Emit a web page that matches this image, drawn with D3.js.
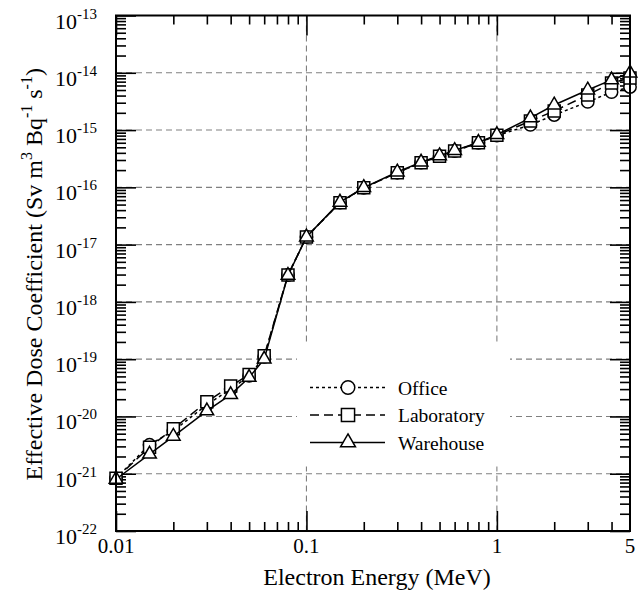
<!DOCTYPE html>
<html>
<head>
<meta charset="utf-8">
<script src="https://cdn.jsdelivr.net/npm/d3@7"></script>
<style>
  html, body { margin: 0; padding: 0; background: #fff; }
</style>
</head>
<body>
<div id="chart"></div>
<script>
// Effective dose coefficient vs electron energy (log-log), three room types

const ENERGY = [0.01, 0.015, 0.02, 0.03, 0.04, 0.05, 0.06, 0.08, 0.1, 0.15, 0.2,
                0.3, 0.4, 0.5, 0.6, 0.8, 1, 1.5, 2, 3, 4, 5];
const OFFICE = [8.3e-22, 3.2e-21, 5.6e-21, 1.6e-20, 3.0e-20, 5.1e-20, 1.1e-19, 2.95e-18,
                1.36e-17, 5.4e-17, 9.8e-17, 1.8e-16, 2.7e-16, 3.5e-16, 4.3e-16, 6.0e-16,
                8.0e-16, 1.23e-15, 1.83e-15, 3.1e-15, 4.6e-15, 5.65e-15];
const LABORATORY = [8.3e-22, 2.9e-21, 6.1e-21, 1.8e-20, 3.4e-20, 5.4e-20, 1.15e-19, 2.95e-18,
                1.36e-17, 5.4e-17, 9.8e-17, 1.8e-16, 2.7e-16, 3.5e-16, 4.3e-16, 6.0e-16,
                8.1e-16, 1.44e-15, 2.15e-15, 4.1e-15, 6.6e-15, 8.1e-15];
const WAREHOUSE = [8.0e-22, 2.2e-21, 4.5e-21, 1.25e-20, 2.4e-20, 4.8e-20, 1.0e-19, 2.9e-18,
                1.36e-17, 5.5e-17, 9.9e-17, 1.85e-16, 2.75e-16, 3.55e-16, 4.4e-16, 6.1e-16,
                8.3e-16, 1.63e-15, 2.74e-15, 5.0e-15, 7.5e-15, 9.9e-15];

const SERIES = [
  { name: "Office",     values: OFFICE,     dash: "3,3", symbol: d3.symbolCircle,   size: 120 },
  { name: "Laboratory", values: LABORATORY, dash: "9,5", symbol: d3.symbolSquare,   size: 144 },
  { name: "Warehouse",  values: WAREHOUSE,  dash: null,  symbol: d3.symbolTriangle, size: 80 },
];
const X_LABELS = [0.01, 0.1, 1, 5];
const Y_EXPONENTS = [-13, -14, -15, -16, -17, -18, -19, -20, -21, -22];

const FONT = "Liberation Serif";

/* ── Layout ── */
const totalW = 640, totalH = 592;
const margin = { top: 15.5, right: 10, bottom: 61, left: 116 };
const W = totalW - margin.left - margin.right;   // 514
const H = totalH - margin.top - margin.bottom;   // 515.5

const svg = d3.select("#chart").append("svg")
  .attr("width", totalW).attr("height", totalH)
  .attr("font-family", FONT);
const g = svg.append("g").attr("transform", `translate(${margin.left},${margin.top})`);

/* ── Scales ── */
const x = d3.scaleLog().domain([0.01, 5]).range([0, W]);
const y = d3.scaleLog().domain([1e-22, 1e-13]).range([H, 0]);

const isMajor = v => Math.abs(Math.log10(v) - Math.round(Math.log10(v))) < 1e-9;
const xTicks = x.ticks();
const yTicks = y.ticks();

/* ── Grid (dashed, decades only) ── */
const gridY = yTicks.filter(v => isMajor(v) && v > 1e-22 && v < 1e-13);
const gridX = xTicks.filter(v => isMajor(v) && v > 0.01);
const grid = g.append("g").attr("stroke", "#808080").attr("stroke-width", 1.1)
  .attr("stroke-dasharray", "6,4").attr("fill", "none");
grid.selectAll(".gy").data(gridY).join("line")
  .attr("x1", 0).attr("x2", W).attr("y1", d => y(d)).attr("y2", d => y(d));
grid.selectAll(".gx").data(gridX).join("line")
  .attr("y1", 0).attr("y2", H).attr("x1", d => x(d)).attr("x2", d => x(d));

/* ── Legend box hides grid behind it ── */
const legend = g.append("g").attr("transform", "translate(181,328)");
legend.append("rect").attr("x", 0).attr("y", 0).attr("width", 213).attr("height", 123)
  .attr("fill", "#fff");

/* ── Ticks (all inward) ── */
function tickAxis(axisFn, scale, values, size, transform) {
  g.append("g").attr("transform", transform || null)
    .call(axisFn(scale).tickValues(values).tickSize(size).tickFormat(""))
    .call(ax => { ax.select(".domain").remove(); ax.selectAll("line").attr("stroke", "#000").attr("stroke-width", 1.6); });
}
const yMinor = yTicks.filter(v => !isMajor(v));
const yMajor = yTicks.filter(isMajor);
const xMinor = xTicks.filter(v => !isMajor(v) && v < 5);
const xMajor = xTicks.filter(isMajor);
tickAxis(d3.axisLeft,   y, yMinor, -10);
tickAxis(d3.axisLeft,   y, yMajor, -20);
tickAxis(d3.axisRight,  y, yMinor, -10, `translate(${W},0)`);
tickAxis(d3.axisRight,  y, yMajor, -20, `translate(${W},0)`);
tickAxis(d3.axisBottom, x, xMinor, -9,  `translate(0,${H})`);
tickAxis(d3.axisBottom, x, xMajor, -20, `translate(0,${H})`);
tickAxis(d3.axisTop,    x, xMinor, -9);
tickAxis(d3.axisTop,    x, xMajor, -20);

/* ── Tick labels ── */
const yl = g.append("g").attr("font-size", 22).attr("fill", "#000");
Y_EXPONENTS.forEach(e => {
  const t = yl.append("text").attr("x", -19).attr("y", y(Math.pow(10, e)) + 13)
    .attr("text-anchor", "end").attr("font-family", FONT);
  t.append("tspan").text("10");
  t.append("tspan").attr("dy", -10).attr("font-size", 15).text(e);
});
g.append("g").attr("font-size", 21).attr("fill", "#000")
  .selectAll("text").data(X_LABELS).join("text")
  .attr("font-family", FONT)
  .attr("x", d => x(d)).attr("y", H + 22).attr("text-anchor", "middle")
  .text(d => String(d));

/* ── Axis titles ── */
g.append("text").attr("x", W / 2 + 4).attr("y", H + 54).attr("font-family", FONT)
  .attr("text-anchor", "middle").attr("font-size", 24).text("Electron Energy (MeV)");

const yt = g.append("text").attr("transform", "rotate(-90)").attr("font-family", FONT)
  .attr("x", -H / 2 - 1).attr("y", -74)
  .attr("text-anchor", "middle").attr("font-size", 24);
yt.append("tspan").text("Effective Dose Coefficient (Sv m");
yt.append("tspan").attr("dy", -10).attr("font-size", 16).text("3");
yt.append("tspan").attr("dy", 10).text(" Bq");
yt.append("tspan").attr("dy", -10).attr("font-size", 16).text("-1");
yt.append("tspan").attr("dy", 10).text(" s");
yt.append("tspan").attr("dy", -10).attr("font-size", 16).text("-1");
yt.append("tspan").attr("dy", 10).text(")");

/* ── Series ── */
const line = d3.line().x(d => x(d[0])).y(d => y(d[1]));
SERIES.forEach(s => {
  const pts = ENERGY.map((e, i) => [e, s.values[i]]);
  g.append("path").datum(pts).attr("d", line)
    .attr("fill", "none").attr("stroke", "#000").attr("stroke-width", 1.5)
    .attr("stroke-dasharray", s.dash);
  g.append("g").selectAll("path").data(pts).join("path")
    .attr("transform", d => `translate(${x(d[0])},${y(d[1])})`)
    .attr("d", d3.symbol(s.symbol, s.size))
    .attr("fill", "#fff").attr("stroke", "#000").attr("stroke-width", 1.5);
});

/* ── Legend entries ── */
SERIES.forEach((s, i) => {
  const row = legend.append("g").attr("transform", `translate(0,${44 + i * 27.5})`);
  row.append("line").attr("x1", 13).attr("x2", 88).attr("y1", 0).attr("y2", 0)
    .attr("stroke", "#000").attr("stroke-width", 1.5).attr("stroke-dasharray", s.dash);
  row.append("path").attr("transform", "translate(51,0)")
    .attr("d", d3.symbol(s.symbol, s.size * 1.2))
    .attr("fill", "#fff").attr("stroke", "#000").attr("stroke-width", 1.5);
  row.append("text").attr("x", 101).attr("y", 7).attr("font-size", 19.5)
    .attr("font-family", FONT).text(s.name);
});

/* ── Frame ── */
g.append("rect").attr("width", W).attr("height", H)
  .attr("fill", "none").attr("stroke", "#000").attr("stroke-width", 2);
</script>
</body>
</html>
